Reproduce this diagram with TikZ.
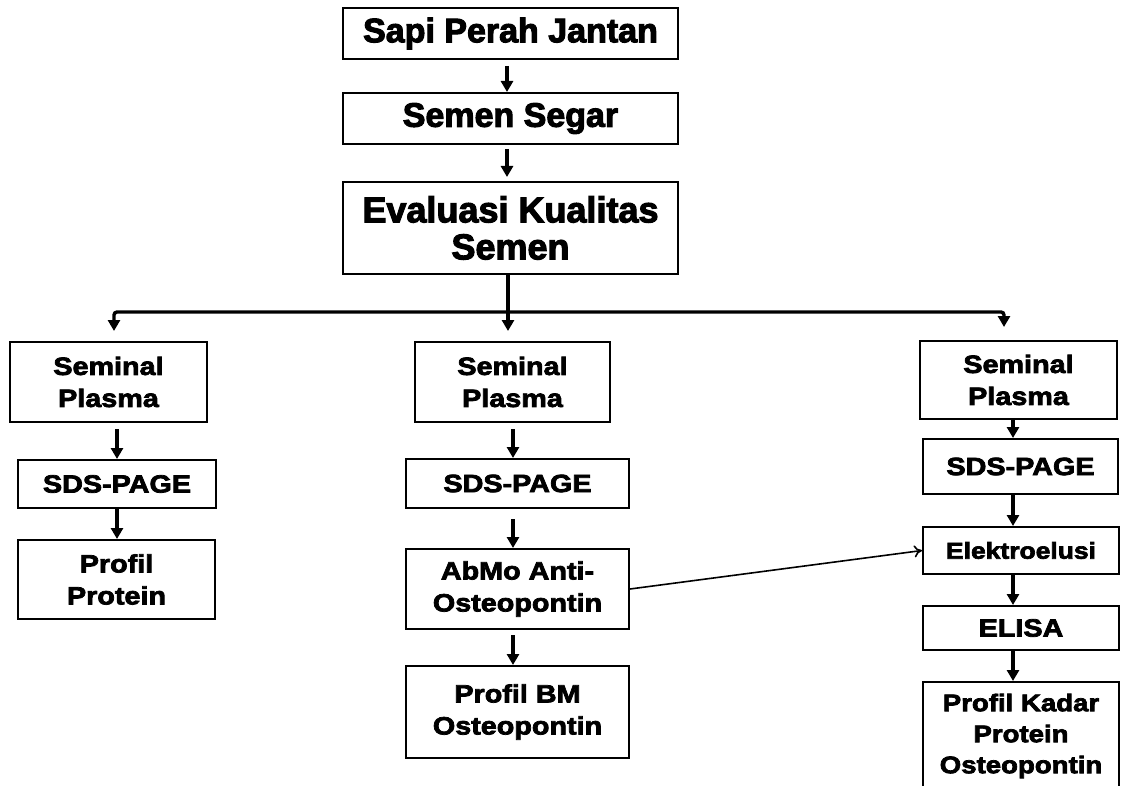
\documentclass[tikz,border=0pt]{standalone}
\usepackage{fontspec}
\setmainfont{Liberation Sans}[FakeBold=3]
\newfontfamily\widefont{Liberation Sans}[FakeStretch=1.15,FakeBold=3]
\usetikzlibrary{arrows.meta}
\begin{document}
\begin{tikzpicture}[x=1pt,y=-1pt,
  box/.style={draw,line width=2pt,inner sep=0pt,align=center,font=\bfseries},
  topbox/.style={box,minimum width=335pt,font=\fontsize{34}{37}\selectfont\bfseries},
  colbox/.style={box,font=\widefont\fontsize{25}{32}\selectfont\bfseries},
  arr/.style={line width=3.4pt,-{Triangle[length=11pt,width=12pt]}},
  conn/.style={line width=3.4pt},
  thinarr/.style={line width=1.6pt,-{To[length=8pt,width=12pt]}}]
\useasboundingbox[fill=white] (0,0) rectangle (1121,786);
% top chain
\node[topbox,minimum height=51pt] (sapi) at (510.5,33.5) {Sapi Perah Jantan};
\node[topbox,minimum height=51pt] (segar) at (510.5,118.5) {Semen Segar};
\node[topbox,minimum height=92pt,font=\fontsize{36}{37}\selectfont\bfseries] (eval) at (510.5,228) {Evaluasi Kualitas\\Semen};
\coordinate (tx) at (507,0);
\draw[arr,shorten <=6pt] (sapi.south -| tx) -- (segar.north -| tx);
\draw[arr,shorten <=4pt,shorten >=4pt] (segar.south -| tx) -- (eval.north -| tx);
% left column
\node[colbox,minimum width=197pt,minimum height=80pt] (L1) at (108.5,382) {Seminal\\Plasma};
\node[colbox,minimum width=198pt,minimum height=48pt] (L2) at (117,484) {SDS-PAGE};
\node[colbox,minimum width=197pt,minimum height=79pt] (L3) at (116.5,579.5) {Profil\\Protein};
% middle column
\node[colbox,minimum width=195pt,minimum height=80pt] (M1) at (512.5,382) {Seminal\\Plasma};
\node[colbox,minimum width=223pt,minimum height=49pt] (M2) at (517.5,483.5) {SDS-PAGE};
\node[colbox,minimum width=223pt,minimum height=80pt] (M3) at (517.5,589) {AbMo Anti-\\Osteopontin};
\node[colbox,minimum width=223pt,minimum height=92pt] (M4) at (517.5,712) {Profil BM\\Osteopontin};
% right column
\node[colbox,minimum width=197pt,minimum height=78pt] (R1) at (1018.5,380) {Seminal\\Plasma};
\node[colbox,minimum width=195pt,minimum height=55pt] (R2) at (1020.5,466.5) {SDS-PAGE};
\node[colbox,minimum width=196pt,minimum height=47pt,font=\widefont\fontsize{23}{30}\selectfont\bfseries] (R3) at (1021,550.5) {Elektroelusi};
\node[colbox,minimum width=196pt,minimum height=44pt] (R4) at (1021,628) {ELISA};
\node[colbox,minimum width=196pt,minimum height=118pt,font=\widefont\fontsize{24}{31}\selectfont\bfseries] (R5) at (1021,741) {Profil Kadar\\Protein\\Osteopontin\rule[-15pt]{0pt}{0pt}};
% branching
\coordinate (j) at (508,312);
\coordinate (jl) at (114,312);
\coordinate (jr) at (1004,312);
\draw[conn] (eval.south -| j) -- (j);
\draw[arr,shorten >=10pt] (j) -- (j |- M1.north);
\draw[arr,rounded corners=3pt,shorten >=10pt] (j) -- (jl) -- (jl |- L1.north);
\draw[arr,rounded corners=3pt,shorten >=13pt] (j) -- (jr) -- (jr |- R1.north);
% left arrows
\draw[arr,shorten <=6pt] (L1.south -| L2.north) -- (L2.north);
\draw[arr] (L2.south) -- (L2.south |- L3.north);
% middle arrows
\coordinate (mx) at (513,0);
\draw[arr,shorten <=6pt] (M1.south -| mx) -- (M2.north -| mx);
\draw[arr,shorten <=10pt] (M2.south -| mx) -- (M3.north -| mx);
\draw[arr,shorten <=5pt] (M3.south -| mx) -- (M4.north -| mx);
% right arrows
\coordinate (rx) at (1013,0);
\draw[arr] (R1.south -| rx) -- (R2.north -| rx);
\draw[arr] (R2.south -| rx) -- (R3.north -| rx);
\draw[arr] (R3.south -| rx) -- (R4.north -| rx);
\draw[arr] (R4.south -| rx) -- (R5.north -| rx);
% cross link
\draw[thinarr] (M3.east) -- (R3.west);
\end{tikzpicture}
\end{document}
